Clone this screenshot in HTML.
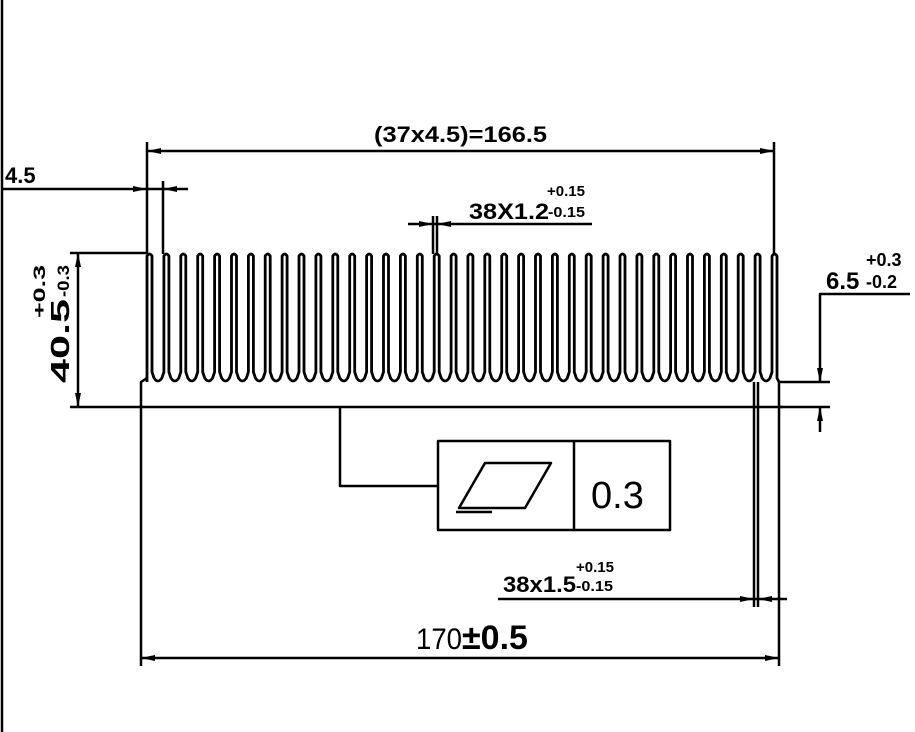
<!DOCTYPE html>
<html><head><style>body{margin:0;background:#fff}svg{display:block}text{font-family:"Liberation Sans",sans-serif;fill:#000}</style></head>
<body>
<svg width="915" height="732" viewBox="0 0 915 732" xmlns="http://www.w3.org/2000/svg">
<g stroke="#000" fill="none" stroke-width="2.5" stroke-linejoin="round">
<line x1="2" y1="0" x2="2" y2="732"/>
<path id="fins" d="" stroke-width="2.8"/>
<line x1="141" y1="420" x2="141" y2="666"/>
<path d="M141 420 L141 382 L147 378"/>
<line x1="70" y1="407" x2="783" y2="407"/>
<line x1="779" y1="382" x2="779" y2="666"/>
<line x1="779" y1="382" x2="830" y2="382"/>
<line x1="754" y1="382" x2="754" y2="607"/>
<line x1="758" y1="382" x2="758" y2="607"/>
<line x1="147" y1="142" x2="147" y2="254"/>
<line x1="774" y1="142" x2="774" y2="254"/>
<line x1="147" y1="151" x2="774" y2="151"/>
<line x1="2" y1="189" x2="188" y2="189"/>
<line x1="163" y1="181" x2="163" y2="254"/>
<line x1="408" y1="224" x2="592" y2="224"/>
<line x1="433" y1="216" x2="433" y2="254"/>
<line x1="437" y1="216" x2="437" y2="254"/>
<line x1="70" y1="253" x2="147" y2="253"/>
<line x1="78" y1="253" x2="78" y2="407"/>
<path d="M910 294 L820 294 L820 382"/>
<line x1="820" y1="407" x2="820" y2="432"/>
<line x1="779" y1="407" x2="830" y2="407"/>
<path d="M340 407 L340 486 L438 486"/>
<rect x="438" y="441" width="232" height="89"/>
<line x1="574" y1="441" x2="574" y2="530"/>
<path d="M485 463 L551 463 L525 508 L459 508 Z"/>
<line x1="456" y1="512" x2="492" y2="512"/>
<line x1="498" y1="599" x2="787" y2="599"/>
<line x1="141" y1="658" x2="779" y2="658"/>
</g>
<g fill="#000">
<path d="M147 151 l14 -3 v6z M774 151 l-14 -3 v6z"/>
<path d="M147 189 l-14 -3 v6z M163 189 l14 -3 v6z"/>
<path d="M433 224 l-14 -3 v6z M437 224 l14 -3 v6z"/>
<path d="M78 253 l-3 14 h6z M78 407 l-3 -14 h6z"/>
<path d="M820 382 l-3 -14 h6z M820 407 l-3 14 h6z"/>
<path d="M754 599 l-14 -3 v6z M758 599 l14 -3 v6z"/>
<path d="M141 658 l14 -3 v6z M779 658 l-14 -3 v6z"/>
</g>
<text x="374" y="142" font-size="22" font-weight="bold" textLength="173" lengthAdjust="spacingAndGlyphs">(37x4.5)=166.5</text>
<text x="5" y="183" font-size="22" font-weight="bold">4.5</text>
<text x="469" y="219" font-size="22" font-weight="bold" textLength="80" lengthAdjust="spacingAndGlyphs">38X1.2</text>
<text x="547" y="196" font-size="15" font-weight="bold" textLength="38" lengthAdjust="spacingAndGlyphs">+0.15</text>
<text x="548" y="217" font-size="15" font-weight="bold" textLength="37" lengthAdjust="spacingAndGlyphs">-0.15</text>
<text x="826" y="289" font-size="24" font-weight="bold">6.5</text>
<text x="866" y="266" font-size="18" font-weight="bold">+0.3</text>
<text x="866" y="288" font-size="18" font-weight="bold">-0.2</text>
<text transform="translate(69,383) rotate(-90)" font-size="26" font-weight="bold" textLength="84" lengthAdjust="spacingAndGlyphs">40.5</text>
<text transform="translate(45,318) rotate(-90)" font-size="17" font-weight="bold" textLength="53" lengthAdjust="spacingAndGlyphs">+0.3</text>
<text transform="translate(69,297) rotate(-90)" font-size="17" font-weight="bold" textLength="32" lengthAdjust="spacingAndGlyphs">-0.3</text>
<text x="591" y="508" font-size="38">0.3</text>
<text x="503" y="592" font-size="22" font-weight="bold" textLength="73" lengthAdjust="spacingAndGlyphs">38x1.5</text>
<text x="576" y="572" font-size="15" font-weight="bold" textLength="38" lengthAdjust="spacingAndGlyphs">+0.15</text>
<text x="576" y="591" font-size="15" font-weight="bold" textLength="37" lengthAdjust="spacingAndGlyphs">-0.15</text>
<text x="416" y="649" font-size="30" textLength="46" lengthAdjust="spacingAndGlyphs">170</text>
<text x="462" y="649" font-size="34" font-weight="bold">±0.5</text>
<script>
(function(){
var d="M147 382 ";var p=(772-147)/37;
for(var i=0;i<38;i++){var l=147+i*p,r=l+5;
d+="L"+l.toFixed(1)+" 256 Q"+(l+2.5).toFixed(1)+" 252 "+r.toFixed(1)+" 256 L"+r.toFixed(1)+" 372 ";
if(i<37){var n=l+p;d+="L"+(r+2).toFixed(1)+" 378 Q"+((r+n)/2).toFixed(1)+" 384 "+(n-2).toFixed(1)+" 378 L"+n.toFixed(1)+" 372 ";}
else d+="L"+r.toFixed(1)+" 378 L779 382";}
document.getElementById("fins").setAttribute("d",d);
})();
</script>
</svg>
</body></html>
